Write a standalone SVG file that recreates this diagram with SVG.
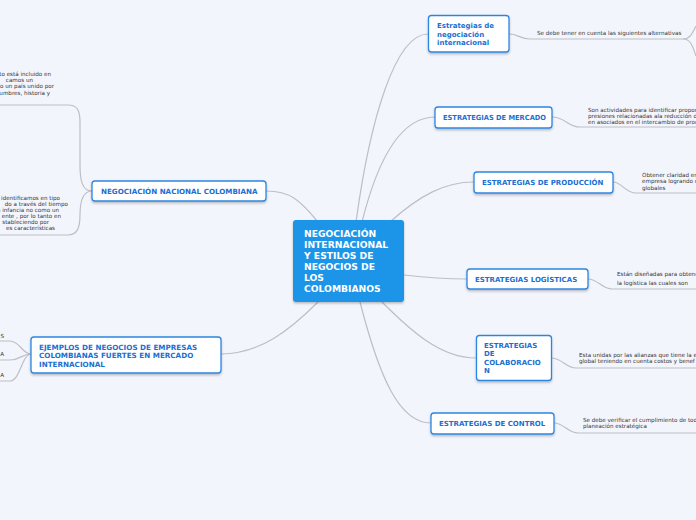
<svg xmlns="http://www.w3.org/2000/svg" width="696" height="520" viewBox="0 0 696 520">
<defs>
<filter id="sh" x="-10%" y="-20%" width="120%" height="150%">
<feDropShadow dx="0" dy="1.5" stdDeviation="1" flood-color="#000" flood-opacity="0.25"/>
</filter>
<style>
.bg{fill:#f3f5fc}
.c{fill:none;stroke:#bdbec6;stroke-width:1.2}
.n{fill:#ffffff;stroke:#2c86e2;stroke-width:1.3}
.nt{font-family:"DejaVu Sans",Verdana,sans-serif;font-weight:bold;font-size:7px;fill:#1b6fd2}
.ct{font-family:"DejaVu Sans",Verdana,sans-serif;font-weight:bold;font-size:9.2px;fill:#ffffff}
.t{font-family:"DejaVu Sans",Verdana,sans-serif;font-size:5.6px;fill:#333333}
</style>
</defs>
<rect class="bg" x="0" y="0" width="696" height="520"/>
<g id="connectors">
<path class="c" d="M356,222 C370,120 395,34 428,34"/>
<path class="c" d="M362,222 C380,150 405,117 435,117"/>
<path class="c" d="M390,222 C420,195 445,182 474,182"/>
<path class="c" d="M404,275 C430,278 445,279 467,279"/>
<path class="c" d="M382,302 C410,330 440,358 476,358"/>
<path class="c" d="M360,302 C380,380 400,423 431,423"/>
<path class="c" d="M318,222 C300,200 290,191 266,191"/>
<path class="c" d="M318,302 C290,330 260,354 221,354"/>
<path class="c" d="M509,34 C518,34 520,39 530,39 L683,39 C690,39 692,34 696,26"/>
<path class="c" d="M683,39 C690,39 692,44 696,56"/>
<path class="c" d="M552,117 C565,117 568,127 580,127 L696,127"/>
<path class="c" d="M613,182 C622,182 625,193 636,193 L696,193"/>
<path class="c" d="M588,279 C598,279 602,289 612,289 L696,289"/>
<path class="c" d="M551,358 C562,358 566,368 576,368 L696,368"/>
<path class="c" d="M554,423 C564,423 568,433 578,433 L696,433"/>
<path class="c" d="M92,191 C82,191 80,180 80,165 L80,122 C80,110 77,105 68,105 L0,105"/>
<path class="c" d="M92,191 C82,191 80,202 80,215 C80,228 77,235 68,235 L0,235"/>
<path class="c" d="M31,354 C22,354 20,341 10,341 L0,341"/>
<path class="c" d="M31,354 C22,354 20,360 10,360 L0,360"/>
<path class="c" d="M31,354 C22,354 20,381 10,381 L0,381"/>
</g>
<g id="center">
<rect x="293" y="220" width="111" height="82" rx="3" fill="#1b95e8" filter="url(#sh)"/>
<text class="ct" x="304" y="237">NEGOCIACIÓN</text>
<text class="ct" x="304" y="248">INTERNACIONAL</text>
<text class="ct" x="304" y="259">Y ESTILOS DE</text>
<text class="ct" x="304" y="270">NEGOCIOS DE</text>
<text class="ct" x="304" y="281">LOS</text>
<text class="ct" x="304" y="292">COLOMBIANOS</text>
</g>
<g id="n1">
<rect class="n" x="428.5" y="15.5" width="80.5" height="36.5" rx="3" filter="url(#sh)"/>
<text class="nt" x="437" y="28">Estrategias de</text>
<text class="nt" x="437" y="36.5">negociación</text>
<text class="nt" x="437" y="45">internacional</text>
</g>
<g id="n1t">
<text class="t" x="537" y="35">Se debe tener en cuenta las siguientes alternativas</text>
</g>
<g id="n2">
<rect class="n" x="435" y="107" width="117" height="21" rx="3" filter="url(#sh)"/>
<text class="nt" x="443" y="120" textLength="103" lengthAdjust="spacingAndGlyphs">ESTRATEGIAS DE MERCADO</text>
</g>
<g id="n2t">
<text class="t" x="588" y="111.5">Son actividades para identificar propor</text>
<text class="t" x="588" y="117.5">presiones relacionadas ala reducción de</text>
<text class="t" x="588" y="123.5">en asociados en el intercambio de prod</text>
</g>
<g id="n3">
<rect class="n" x="474" y="172" width="139" height="21" rx="3" filter="url(#sh)"/>
<text class="nt" x="482" y="185">ESTRATEGIAS DE PRODUCCIÓN</text>
</g>
<g id="n3t">
<text class="t" x="642" y="177">Obtener claridad en</text>
<text class="t" x="642" y="183">empresa logrando u</text>
<text class="t" x="642" y="189.5">globales</text>
</g>
<g id="n4">
<rect class="n" x="467" y="269" width="121" height="20" rx="3" filter="url(#sh)"/>
<text class="nt" x="475" y="282">ESTRATEGIAS LOGÍSTICAS</text>
</g>
<g id="n4t">
<text class="t" x="617" y="276">Están diseñadas para obtene</text>
<text class="t" x="617" y="284.5">la logística las cuales son</text>
</g>
<g id="n5">
<rect class="n" x="476.5" y="335.5" width="75" height="45" rx="3" filter="url(#sh)"/>
<text class="nt" x="484" y="347.5">ESTRATEGIAS</text>
<text class="nt" x="484" y="356">DE</text>
<text class="nt" x="484" y="364.5">COLABORACIO</text>
<text class="nt" x="484" y="373">N</text>
</g>
<g id="n5t">
<text class="t" x="579" y="357">Esta unidas por las alianzas que tiene la e</text>
<text class="t" x="579" y="363">global  teniendo en cuenta  costos y benef</text>
</g>
<g id="n6">
<rect class="n" x="431" y="413" width="123" height="21" rx="3" filter="url(#sh)"/>
<text class="nt" x="439" y="426">ESTRATEGIAS DE CONTROL</text>
</g>
<g id="n6t">
<text class="t" x="583" y="421.5">Se debe verificar el cumplimiento de toda</text>
<text class="t" x="583" y="427.5">planeación estratégica</text>
</g>
<g id="n7">
<rect class="n" x="92" y="181" width="174" height="20" rx="3" filter="url(#sh)"/>
<text class="nt" x="101" y="193.5" style="font-size:7.15px">NEGOCIACIÓN NACIONAL COLOMBIANA</text>
</g>
<g id="n7t1">
<text class="t" x="51" y="75.5" text-anchor="end">to está incluido en</text>
<text class="t" x="33" y="81.5" text-anchor="end">camos un</text>
<text class="t" x="54" y="88" text-anchor="end">o un país unido por</text>
<text class="t" x="50" y="94.5" text-anchor="end">umbres, historia y</text>
</g>
<g id="n7t2">
<text class="t" x="60" y="199.5" text-anchor="end">a identificamos en tipo</text>
<text class="t" x="68" y="205.5" text-anchor="end">do a través del tiempo</text>
<text class="t" x="59" y="211.5" text-anchor="end">a infancia no como un</text>
<text class="t" x="61" y="217.5" text-anchor="end">ente , por lo tanto en</text>
<text class="t" x="49" y="223.5" text-anchor="end">stableciendo por</text>
<text class="t" x="55" y="229.5" text-anchor="end">es características</text>
</g>
<g id="n8">
<rect class="n" x="31" y="337" width="190" height="36" rx="3" filter="url(#sh)"/>
<text class="nt" x="39" y="349.5" style="font-size:7.2px">EJEMPLOS DE NEGOCIOS  DE EMPRESAS</text>
<text class="nt" x="39" y="358" style="font-size:7.2px">COLOMBIANAS FUERTES  EN MERCADO</text>
<text class="nt" x="39" y="366.5" style="font-size:7.2px">INTERNACIONAL</text>
</g>
<g id="n8t">
<text class="t" x="4" y="337.5" text-anchor="end">S</text>
<text class="t" x="4" y="356" text-anchor="end">A</text>
<text class="t" x="4" y="377" text-anchor="end">A</text>
</g>
</svg>
